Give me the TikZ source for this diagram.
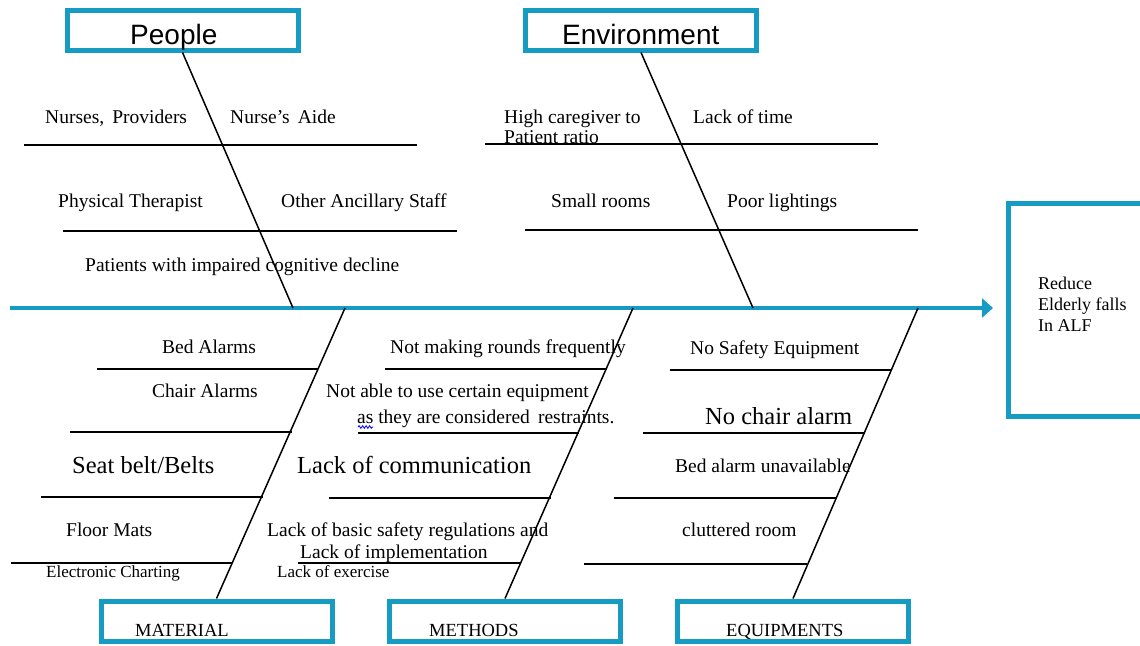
\documentclass[tikz,border=0pt]{standalone}
\usepackage{fontspec}
\setmainfont{Liberation Serif}
\setsansfont{Liberation Sans}
\usetikzlibrary{arrows.meta,positioning,decorations.pathmorphing}
\definecolor{fishblue}{RGB}{22,155,195}

\begin{document}
\begin{tikzpicture}[x=1pt,y=-1pt,>=Latex,
	box/.style={draw=fishblue,line width=5pt,minimum width=231pt,minimum height=40pt,inner sep=0pt},
	bone/.style={line width=1.5pt},
	rib/.style={line width=1.5pt},
	txt/.style={anchor=base west,inner sep=0pt,font=\fontsize{19.5}{22}\selectfont},
	big/.style={txt,font=\fontsize{24.5}{28}\selectfont},
	small/.style={txt,font=\fontsize{17}{20}\selectfont},
	head/.style={txt,font=\sffamily\fontsize{28}{32}\selectfont},
	tag/.style={txt,font=\fontsize{18.5}{22}\selectfont}]
	\useasboundingbox (0,0) rectangle (1140,645);
	% spine and effect
	\coordinate (tail) at (10,308);
	\coordinate (tip) at (993,308);
	\draw[draw=fishblue,line width=4.2pt,-{Triangle[length=11pt,width=19pt]}] (tail) -- (tip);
	\node[box,minimum width=152pt,minimum height=213pt,anchor=west] (effect) at (1006,310) {};
	\node[txt,font=\fontsize{18}{21}\selectfont,align=left,anchor=north west] (goal) at (1038,277)
		{Reduce\\Elderly falls\\In ALF};
	% category boxes
	\node[box] (people) at (182.5,30) {};
	\node[box] (envir) at (641,30) {};
	\node[box] (material) at (216.5,621) {};
	\node[box] (methods) at (505,621) {};
	\node[box] (equip) at (793,621) {};
	\node[head] (peoplelab) at (130,44) {People};
	\node[head] (envirlab) at (562,44) {Environment};
	\node[tag] (materiallab) at (135,636) {MATERIAL};
	\node[tag] (methodslab) at (429,636) {METHODS};
	\node[tag] (equiplab) at (726,636) {EQUIPMENTS};
	% bones
	\coordinate (p1) at (293,308);
	\coordinate (p2) at (753,308);
	\coordinate (p3) at (345,308);
	\coordinate (p4) at (633,308);
	\coordinate (p5) at (918,308);
	\draw[bone] (people.south) -- (p1);
	\draw[bone] (envir.south) -- (p2);
	\draw[bone] (p3) -- (material.north);
	\draw[bone] (p4) -- (methods.north);
	\draw[bone] (p5) -- (equip.north);
	% ribs
	\draw[rib] (24,145) -- (417,145);
	\draw[rib] (63,231) -- (457,231);
	\draw[rib] (485,144) -- (878,144);
	\draw[rib] (525,230) -- (918,230);
	\draw[rib] (97,369) -- (318,369);
	\draw[rib] (70,432) -- (292,432);
	\draw[rib] (41,497) -- (263,497);
	\draw[rib] (11,563) -- (232,563);
	\draw[rib] (385,369) -- (607,369);
	\draw[rib] (358,433) -- (579,433);
	\draw[rib] (329,498) -- (551,498);
	\draw[rib] (298,563) -- (521,563);
	\draw[rib] (670,370) -- (892,370);
	\draw[rib] (643,433) -- (865,433);
	\draw[rib] (614,498) -- (837,498);
	\draw[rib] (584,564) -- (807,564);
	% people
	\node[txt] (nurses) at (45,123) {Nurses,\, Providers};
	\node[txt] (aide) at (230,123) {Nurse’s\, Aide};
	\node[txt] (therapist) at (58,207) {Physical Therapist};
	\node[txt] (ancillary) at (281,207) {Other Ancillary Staff};
	\node[txt] (patients) at (85,271) {Patients with impaired cognitive decline};
	% environment
	\node[txt] (ratio) at (504,123) {High caregiver to};
	\node[txt] (ratiob) at (504,143) {Patient ratio};
	\node[txt] (time) at (693,123) {Lack of time};
	\node[txt] (rooms) at (551,207) {Small rooms};
	\node[txt] (lights) at (727,207) {Poor lightings};
	% material
	\node[txt] (bedal) at (162,353) {Bed Alarms};
	\node[txt] (chairal) at (152,397) {Chair Alarms};
	\node[big] (belts) at (72,473) {Seat belt/Belts};
	\node[txt] (mats) at (66,536) {Floor Mats};
	\node[small] (charting) at (46,577) {Electronic Charting};
	% methods
	\node[txt] (rounds) at (390,353) {Not making rounds frequently};
	\node[txt] (notable) at (326,397) {Not able to use certain equipment};
	\node[txt] (restr) at (357,423) {as they are considered\, restraints.};
	\draw[blue,line width=0.8pt,decorate,decoration={snake,amplitude=1.3pt,segment length=3.5pt}]
		(358,427) -- (373,427);
	\node[big] (comm) at (297,473) {Lack of communication};
	\node[txt] (regs) at (267,536) {Lack of basic safety regulations and};
	\node[txt] (impl) at (300,558) {Lack of implementation};
	\node[small] (exerc) at (277,577) {Lack of exercise};
	% equipments
	\node[txt] (safety) at (690,354) {No Safety Equipment};
	\node[big] (nochair) at (705,424) {No chair alarm};
	\node[txt] (bedun) at (675,472) {Bed alarm unavailable};
	\node[txt] (clutter) at (682,536) {cluttered room};
\end{tikzpicture}
\end{document}
